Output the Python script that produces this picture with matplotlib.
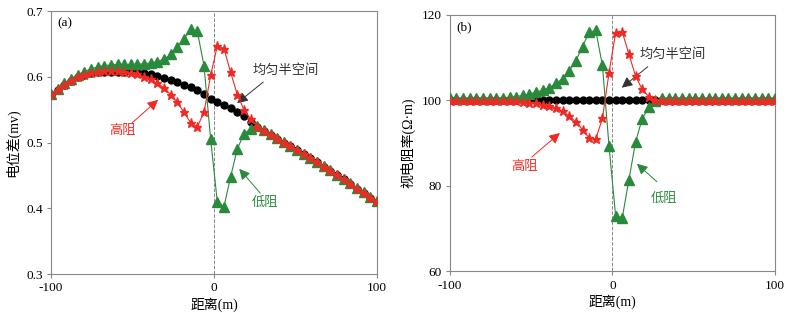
import numpy as np
import matplotlib
matplotlib.use('Agg')
import matplotlib.pyplot as plt

plt.rcParams['font.family'] = ['Liberation Serif', 'Noto Sans CJK SC', 'DejaVu Sans']
plt.rcParams['axes.unicode_minus'] = False

# 50 points from -100 m to 100 m
dist = np.linspace(-100, 100, 50)

# right-hand part where all three curves coincide (26.5 m .. 100 m)
tail = [0.524, 0.518, 0.512, 0.506, 0.500, 0.494, 0.488, 0.482, 0.476, 0.470,
        0.463, 0.457, 0.450, 0.444, 0.437, 0.430, 0.423, 0.416, 0.410]

# (a) potential difference
pot_uniform = [0.573, 0.580, 0.587, 0.594, 0.599, 0.603, 0.606, 0.608, 0.608, 0.608,
               0.608, 0.608, 0.609, 0.608, 0.606, 0.604, 0.601, 0.598, 0.595, 0.592,
               0.588, 0.584, 0.580, 0.574, 0.567, 0.561, 0.557, 0.553, 0.547, 0.541,
               0.531] + tail
pot_high = [0.573, 0.580, 0.587, 0.594, 0.599, 0.603, 0.606, 0.608, 0.609, 0.609,
            0.609, 0.608, 0.606, 0.604, 0.600, 0.596, 0.590, 0.583, 0.573, 0.561,
            0.546, 0.530, 0.524, 0.546, 0.602, 0.647, 0.643, 0.607, 0.573, 0.550,
            0.536] + tail
pot_low = [0.574, 0.582, 0.590, 0.597, 0.603, 0.608, 0.612, 0.615, 0.617, 0.618,
           0.619, 0.619, 0.619, 0.619, 0.620, 0.621, 0.623, 0.627, 0.634, 0.645,
           0.658, 0.672, 0.669, 0.617, 0.505, 0.410, 0.402, 0.448, 0.490, 0.513,
           0.521] + [v + 0.001 for v in tail]

# (b) apparent resistivity
rho_uniform = [100.0] * 50
rho_high = [99.8] * 11 + [99.7, 99.5, 99.3, 99.0, 98.7, 98.3, 97.5, 96.3, 95.0, 93.2,
                          91.2, 91.0, 95.8, 106.5, 115.9, 116.0, 110.8, 105.7, 102.6, 100.9,
                          100.1] + [99.8] * 18
rho_low = [100.5] * 8 + [100.6, 100.8, 100.9, 101.2, 101.5, 102.0, 102.4, 103.0, 104.0,
                         105.1, 107.0, 109.3, 112.6, 116.0, 116.4, 108.2, 89.3, 72.9, 72.6,
                         81.5, 90.3, 95.7, 98.5, 99.9] + [100.5] * 18

RED = '#ee2a24'
GREEN = '#2a8a3c'


def draw(ax, uni, high, low):
    ax.axvline(0, color='#888888', ls='--', lw=0.7, zorder=1)
    ax.plot(dist, uni, 'o', color='black', ms=5, zorder=2)
    ax.plot(dist, low, '-^', color=GREEN, ms=7, lw=0.8, zorder=3)
    ax.plot(dist, high, '-*', color=RED, ms=6.5, lw=0.8, zorder=4)
    ax.set_xlim(-100, 100)
    ax.set_xticks([-100, 0, 100])
    ax.set_xlabel('距离(m)', fontsize=10, labelpad=2)
    for s in ax.spines.values():
        s.set_color('#888888')
        s.set_linewidth(0.8)
    ax.tick_params(labelsize=9.5, length=3, color='#888888', pad=3)


def note(ax, txt, xy, xytext, tpos, color):
    ax.annotate('', xy=xy, xytext=xytext,
                arrowprops=dict(arrowstyle='-|>', color=color, lw=0.7,
                                mutation_scale=16, shrinkA=0, shrinkB=0))
    ax.text(tpos[0], tpos[1], txt, color=color, fontsize=9.5, ha='center', va='center')


fig = plt.figure(figsize=(7.99, 3.13), dpi=100)
ax1 = fig.add_axes([0.0638, 0.1246, 0.408, 0.840])
ax2 = fig.add_axes([0.563, 0.1326, 0.4068, 0.8195])

draw(ax1, pot_uniform, pot_high, pot_low)
ax1.set_ylim(0.3, 0.7)
ax1.set_yticks([0.3, 0.4, 0.5, 0.6, 0.7])
ax1.set_ylabel('电位差(mv)', fontsize=10, labelpad=4)
ax1.text(-96, 0.69, '(a)', fontsize=9.5, va='top')
note(ax1, '均匀半空间', (14.2, 0.560), (30.2, 0.592), (43.7, 0.610), '#333333')
note(ax1, '高阻', (-34.3, 0.565), (-50.2, 0.530), (-56.4, 0.518), RED)
note(ax1, '低阻', (15.5, 0.460), (28.4, 0.423), (31.4, 0.408), GREEN)

draw(ax2, rho_uniform, rho_high, rho_low)
ax2.set_ylim(60, 120)
ax2.set_yticks([60, 80, 100, 120])
ax2.set_ylabel('视电阻率(Ω·m)', fontsize=10, labelpad=4)
ax2.text(-96, 118.5, '(b)', fontsize=9.5, va='top')
note(ax2, '均匀半空间', (5.8, 103.0), (21.8, 107.9), (37.2, 110.7), '#333333')
note(ax2, '高阻', (-32.3, 92.4), (-49.5, 86.8), (-53.8, 84.5), RED)
note(ax2, '低阻', (15.1, 85.2), (27.4, 81.0), (31.7, 77.0), GREEN)

fig.savefig('out.png', dpi=100)
